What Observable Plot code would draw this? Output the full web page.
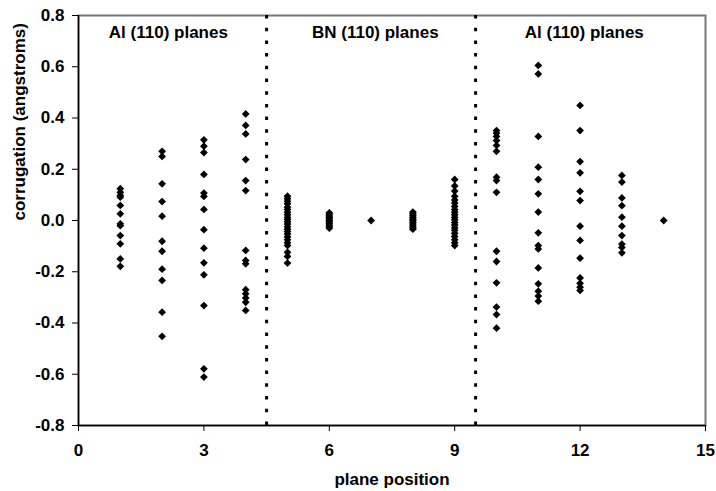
<!DOCTYPE html>
<html><head><meta charset="utf-8">
<script src="https://cdn.jsdelivr.net/npm/d3@7"></script>
<script src="https://cdn.jsdelivr.net/npm/@observablehq/plot@0.6"></script>
<style>body{margin:0;background:#fff}</style>
</head><body><div id="chart"></div>
<script>
// plane positions and corrugation values (angstroms)
const planes = [1, 2, 3, 4, 5, 6, 7, 8, 9, 10, 11, 12, 13, 14];
const corrugation = [
  [0.124, 0.110, 0.098, 0.091, 0.059, 0.026, -0.013, -0.020, -0.059, -0.091, -0.150, -0.179],
  [0.270, 0.250, 0.143, 0.074, 0.017, -0.081, -0.120, -0.190, -0.234, -0.358, -0.452],
  [0.315, 0.290, 0.265, 0.180, 0.107, 0.094, 0.043, -0.036, -0.108, -0.165, -0.212, -0.332, -0.579, -0.611],
  [0.416, 0.371, 0.338, 0.238, 0.156, 0.117, -0.117, -0.156, -0.169, -0.270, -0.286, -0.302, -0.319, -0.351],
  [0.095, 0.085, 0.075, 0.065, 0.052, 0.043, 0.032, 0.022, 0.012, 0.004, -0.005, -0.014, -0.024, -0.034, -0.043, -0.053, -0.064, -0.075, -0.087, -0.098, -0.124, -0.140, -0.166],
  [0.030, 0.024, 0.018, 0.012, 0.006, 0.000, -0.006, -0.012, -0.018, -0.024, -0.030],
  [0.000],
  [0.033, 0.026, 0.019, 0.012, 0.006, 0.000, -0.007, -0.014, -0.021, -0.028, -0.034],
  [0.160, 0.135, 0.115, 0.095, 0.080, 0.068, 0.055, 0.042, 0.032, 0.022, 0.012, 0.003, -0.008, -0.018, -0.028, -0.038, -0.050, -0.062, -0.075, -0.087, -0.098],
  [0.351, 0.341, 0.328, 0.312, 0.293, 0.270, 0.169, 0.156, 0.110, -0.120, -0.160, -0.243, -0.338, -0.367, -0.420],
  [0.605, 0.572, 0.328, 0.208, 0.160, 0.104, 0.033, -0.048, -0.098, -0.111, -0.185, -0.247, -0.276, -0.295, -0.315],
  [0.449, 0.351, 0.230, 0.186, 0.114, 0.078, -0.022, -0.078, -0.147, -0.224, -0.245, -0.260, -0.273],
  [0.176, 0.150, 0.088, 0.058, 0.013, -0.022, -0.059, -0.092, -0.105, -0.126],
  [0.000]
];
const dividers = [4.5, 9.5];
const regionLabels = ["Al (110) planes", "BN (110) planes", "Al (110) planes"];
const regionLabelX = [2.15, 7.1, 12.1];
const regionLabelY = 0.735;
const xTicks = [0, 3, 6, 9, 12, 15];
const yTicks = [-0.8, -0.6, -0.4, -0.2, 0, 0.2, 0.4, 0.6, 0.8];
const yTickLabels = ["-0.8", "-0.6", "-0.4", "-0.2", "0.0", "0.2", "0.4", "0.6", "0.8"];

const rows = planes.flatMap((p, i) => corrugation[i].map(v => ({plane: p, value: v})));
const labels = regionLabels.map((t, i) => ({text: t, x: regionLabelX[i], y: regionLabelY}));

const chart = Plot.plot({
  width: 716,
  height: 491,
  marginLeft: 78,
  marginRight: 11,
  marginTop: 15,
  marginBottom: 66,
  style: {fontFamily: "'Liberation Sans', Arial, sans-serif", fontWeight: "bold", fontSize: "17px", color: "#000", background: "#fff"},
  x: {domain: [0, 15]},
  y: {domain: [-0.8, 0.8]},
  marks: [
    Plot.frame({stroke: "#777", strokeWidth: 2}),
    Plot.ruleX([0], {stroke: "#000", strokeWidth: 1.5}),
    Plot.ruleY([-0.8], {stroke: "#000", strokeWidth: 1.5}),
    Plot.axisX({ticks: xTicks, tickSize: 6, tickPadding: 12, label: null, fontSize: 17, fontWeight: "bold", stroke: "#000"}),
    Plot.axisY({ticks: yTicks, tickFormat: (d) => yTickLabels[yTicks.indexOf(d)], tickSize: 6, tickPadding: 8, label: null, fontSize: 17, fontWeight: "bold"}),
    Plot.ruleX(dividers, {stroke: "#000", strokeWidth: 3, strokeDasharray: "3.5,9.2"}),
    Plot.dot(rows, {x: "plane", y: "value", symbol: "diamond2", r: 3.5, fill: "#000", stroke: "none"}),
    Plot.text(labels, {x: "x", y: "y", text: "text", fontSize: 17, fontWeight: "bold", fill: "#000"}),
    Plot.text(["plane position"], {frameAnchor: "bottom", dy: 59, fontSize: 17, fontWeight: "bold", fill: "#000"}),
    Plot.text(["corrugation (angstroms)"], {frameAnchor: "left", dx: -59, rotate: -90, fontSize: 17, fontWeight: "bold", fill: "#000"})
  ]
});
document.getElementById("chart").appendChild(chart);
</script>
</body></html>
